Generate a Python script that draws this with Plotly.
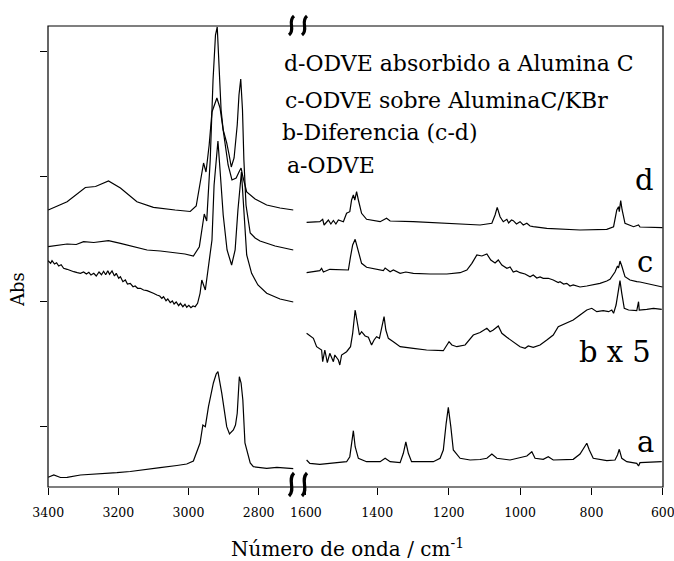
import plotly.graph_objects as go

# ---------------- data (wavenumber cm-1, offset absorbance) ----------------
# left segment 3400-2700
d_hi_wn = [3400, 3346, 3294, 3265, 3228, 3194, 3147, 3100, 3038, 2995, 2978, 2967, 2957, 2950,
           2941, 2933, 2919, 2910, 2898, 2887, 2876, 2864, 2856, 2850, 2844, 2834, 2810, 2777, 2739, 2701]
d_hi_ab = [2.77, 2.853, 2.995, 3.005, 3.06, 2.99, 2.853, 2.797, 2.77, 2.755, 2.81, 3.02, 3.24, 3.15,
           3.42, 3.75, 3.89, 3.79, 3.47, 3.22, 3.07, 3.09, 3.15, 3.19, 3.09, 2.95, 2.88, 2.82, 2.79, 2.77]

c_hi_wn = [3400, 3370, 3346, 3320, 3299, 3270, 3228, 3194, 3160, 3118, 3080, 3043, 3010, 2986, 2969,
           2961, 2955, 2948, 2938, 2930, 2923, 2918, 2913, 2907, 2901, 2891, 2884, 2878, 2870, 2861,
           2856, 2851, 2846, 2842, 2836, 2830, 2824, 2810, 2796, 2753, 2701]
c_hi_ab = [2.403, 2.42, 2.43, 2.425, 2.453, 2.445, 2.463, 2.437, 2.41, 2.37, 2.36, 2.343, 2.33, 2.31, 2.403,
           2.59, 2.73, 2.66, 3.27, 4.07, 4.52, 4.6, 4.17, 3.77, 3.57, 3.44, 3.32, 3.20, 3.29, 3.62,
           3.92, 4.08, 3.77, 3.27, 2.82, 2.65, 2.54, 2.49, 2.46, 2.41, 2.37]

b_hi_wn = [3400, 3393, 3389, 3382, 3376, 3370, 3363, 3356, 3346, 3337, 3327, 3317, 3308, 3299, 3291,
           3284, 3278, 3270, 3263, 3255, 3248, 3242, 3236, 3230, 3225, 3218, 3211, 3206, 3199, 3194,
           3187, 3180, 3174, 3166, 3158, 3152, 3145, 3137, 3128, 3118, 3109, 3100, 3090, 3082, 3076,
           3071, 3064, 3059, 3052, 3046, 3041, 3035, 3028, 3023, 3016, 3010, 3005, 2999, 2993, 2987,
           2981, 2974, 2967, 2962, 2952, 2944, 2933, 2927, 2916, 2910, 2901, 2890, 2877, 2867, 2859,
           2849, 2843, 2834, 2820, 2802, 2777, 2739, 2701]
b_hi_ab = [2.263, 2.237, 2.263, 2.23, 2.243, 2.21, 2.223, 2.187, 2.177, 2.163, 2.153, 2.143, 2.137, 2.15, 2.13,
           2.147, 2.12, 2.137, 2.11, 2.15, 2.123, 2.157, 2.123, 2.163, 2.127, 2.16, 2.11, 2.137, 2.087, 2.103,
           2.053, 2.07, 2.03, 2.037, 2.003, 2.01, 1.987, 1.987, 1.97, 1.963, 1.953, 1.937, 1.92, 1.91, 1.887,
           1.903, 1.863, 1.88, 1.843, 1.86, 1.83, 1.85, 1.813, 1.837, 1.803, 1.827, 1.797, 1.817, 1.793, 1.81,
           1.803, 1.837, 1.937, 2.07, 1.97, 2.17, 2.47, 3.02, 3.46, 3.17, 2.72, 2.37, 2.22, 2.37, 2.77,
           3.15, 2.77, 2.32, 2.137, 2.02, 1.937, 1.88, 1.85]

a_hi_wn = [3400, 3384, 3365, 3346, 3308, 3280, 3251, 3204, 3166, 3137, 3081, 3033, 3005, 2986, 2967,
           2959, 2952, 2943, 2929, 2921, 2916, 2905, 2891, 2883, 2872, 2866, 2861, 2855, 2850, 2845,
           2839, 2824, 2815, 2777, 2748, 2701]
a_hi_ab = [0.097, 0.12, 0.095, 0.097, 0.12, 0.125, 0.137, 0.143, 0.155, 0.17, 0.193, 0.215, 0.23, 0.26, 0.44,
           0.62, 0.603, 0.803, 1.04, 1.13, 1.153, 0.937, 0.603, 0.53, 0.57, 0.62, 0.737, 1.103, 1.04, 0.87,
           0.44, 0.24, 0.203, 0.187, 0.197, 0.183]

# right segment 1600-600
d_lo_wn = [1598, 1561, 1553, 1549, 1537, 1530, 1523, 1516, 1509, 1495, 1486, 1477, 1472, 1467, 1463,
           1458, 1453, 1444, 1430, 1392, 1374, 1364, 1299, 1205, 1112, 1079, 1070, 1064, 1056, 1047,
           1037, 1032, 1024, 1019, 1010, 1000, 991, 981, 972, 963, 925, 832, 757, 738, 729,
           724, 722, 718, 714, 706, 682, 668, 664, 601]
d_lo_ab = [2.647, 2.653, 2.677, 2.62, 2.67, 2.63, 2.665, 2.63, 2.67, 2.653, 2.737, 2.753, 2.87, 2.92, 2.87,
           2.953, 2.87, 2.737, 2.677, 2.653, 2.687, 2.66, 2.653, 2.637, 2.62, 2.637, 2.72, 2.797, 2.703, 2.653,
           2.677, 2.64, 2.67, 2.663, 2.63, 2.653, 2.62, 2.637, 2.61, 2.603, 2.587, 2.57, 2.577, 2.603, 2.77,
           2.803, 2.753, 2.863, 2.77, 2.637, 2.603, 2.62, 2.60, 2.593]

c_lo_wn = [1598, 1561, 1556, 1551, 1533, 1505, 1481, 1475, 1469, 1462, 1456, 1444, 1430, 1400, 1383,
           1378, 1364, 1355, 1336, 1320, 1299, 1252, 1205, 1168, 1149, 1135, 1121, 1107, 1093, 1082,
           1070, 1061, 1051, 1037, 1028, 1019, 1010, 1000, 986, 972, 963, 953, 944, 935, 921,
           907, 893, 888, 878, 869, 860, 851, 832, 813, 795, 776, 757, 748, 734, 727,
           724, 720, 715, 712, 706, 692, 682, 673, 664, 645, 626, 601]
c_lo_ab = [2.143, 2.163, 2.187, 2.15, 2.177, 2.17, 2.17, 2.303, 2.42, 2.477, 2.403, 2.237, 2.197, 2.18, 2.163,
           2.19, 2.153, 2.17, 2.137, 2.15, 2.137, 2.13, 2.13, 2.143, 2.17, 2.237, 2.32, 2.31, 2.33, 2.27,
           2.24, 2.27, 2.22, 2.187, 2.20, 2.15, 2.16, 2.143, 2.13, 2.103, 2.12, 2.09, 2.10, 2.087, 2.087,
           2.07, 2.045, 2.053, 2.03, 2.037, 2.01, 2.02, 2.00, 2.01, 2.02, 2.037, 2.06, 2.077, 2.15, 2.21,
           2.19, 2.26, 2.21, 2.17, 2.103, 2.07, 2.06, 2.053, 2.05, 2.037, 2.02, 2.00]

b_lo_wn = [1598, 1579, 1570, 1556, 1553, 1547, 1540, 1533, 1523, 1519, 1509, 1505, 1500, 1486, 1475,
           1469, 1462, 1456, 1450, 1444, 1434, 1425, 1416, 1409, 1402, 1394, 1388, 1381, 1376, 1369,
           1355, 1336, 1299, 1262, 1215, 1205, 1199, 1191, 1177, 1154, 1140, 1131, 1112, 1093, 1084,
           1075, 1061, 1051, 1037, 1019, 1000, 986, 977, 963, 944, 925, 907, 893, 869, 851,
           832, 813, 799, 785, 767, 752, 743, 738, 731, 724, 720, 715, 708, 696, 673,
           668, 666, 645, 626, 603]
b_lo_ab = [1.537, 1.487, 1.403, 1.37, 1.253, 1.37, 1.243, 1.337, 1.253, 1.32, 1.27, 1.22, 1.32, 1.353, 1.403,
           1.537, 1.77, 1.637, 1.52, 1.553, 1.51, 1.497, 1.42, 1.47, 1.503, 1.487, 1.587, 1.703, 1.57, 1.487,
           1.453, 1.403, 1.387, 1.37, 1.363, 1.42, 1.453, 1.42, 1.403, 1.42, 1.487, 1.52, 1.545, 1.587, 1.553,
           1.57, 1.61, 1.537, 1.497, 1.453, 1.403, 1.387, 1.41, 1.397, 1.42, 1.47, 1.52, 1.603, 1.637, 1.67,
           1.72, 1.77, 1.787, 1.753, 1.763, 1.753, 1.77, 1.737, 1.82, 1.97, 2.063, 1.937, 1.787, 1.77, 1.763,
           1.853, 1.77, 1.777, 1.787, 1.777]

a_lo_wn = [1598, 1589, 1561, 1523, 1486, 1477, 1472, 1467, 1462, 1453, 1430, 1392, 1378, 1364, 1336,
           1327, 1320, 1313, 1304, 1243, 1224, 1215, 1207, 1201, 1194, 1187, 1168, 1140, 1112, 1093,
           1079, 1065, 1028, 1000, 981, 967, 958, 935, 921, 907, 851, 832, 821, 813, 806,
           795, 757, 734, 727, 722, 715, 701, 673, 668, 664, 603]
a_lo_ab = [0.27, 0.237, 0.227, 0.237, 0.253, 0.303, 0.437, 0.563, 0.403, 0.287, 0.253, 0.253, 0.287, 0.253, 0.243,
           0.337, 0.45, 0.337, 0.253, 0.253, 0.287, 0.37, 0.637, 0.797, 0.603, 0.37, 0.287, 0.27, 0.275, 0.287,
           0.33, 0.287, 0.27, 0.297, 0.31, 0.353, 0.287, 0.277, 0.303, 0.27, 0.277, 0.33, 0.387, 0.437, 0.37,
           0.287, 0.263, 0.27, 0.32, 0.377, 0.287, 0.253, 0.237, 0.21, 0.243, 0.253]

left_ticks = [3400, 3200, 3000, 2800]
right_ticks = [1600, 1400, 1200, 1000, 800, 600]
y_ticks = [0.61, 1.86, 3.11, 4.36]

legend_lines = ["d-ODVE absorbido a Alumina C", "c-ODVE sobre AluminaC/KBr",
                "b-Diferencia (c-d)", "a-ODVE"]
trace_labels = ["d", "c", "b x 5", "a"]

# ---------------- figure ----------------
FONT = "DejaVu Serif"
W, H = 615, 461          # plot area size in px
L, T = 48, 26            # margins

def px(x):  # pixel x -> paper
    return (x - L) / W

def py(y):  # pixel y -> paper
    return (T + H - y) / H

fig = go.Figure()
line = dict(color="black", width=1.2)
for wn, ab in [(d_hi_wn, d_hi_ab), (c_hi_wn, c_hi_ab), (b_hi_wn, b_hi_ab), (a_hi_wn, a_hi_ab)]:
    fig.add_trace(go.Scatter(x=wn, y=ab, mode="lines", line=line, xaxis="x", yaxis="y",
                             showlegend=False, hoverinfo="skip"))
for wn, ab in [(d_lo_wn, d_lo_ab), (c_lo_wn, c_lo_ab), (b_lo_wn, b_lo_ab), (a_lo_wn, a_lo_ab)]:
    fig.add_trace(go.Scatter(x=wn, y=ab, mode="lines", line=line, xaxis="x2", yaxis="y",
                             showlegend=False, hoverinfo="skip"))

tickfont = dict(family=FONT, size=12.5, color="black")
axis_common = dict(ticks="outside", ticklen=7, tickwidth=1, tickcolor="black", showgrid=False,
                   zeroline=False, showline=False, tickfont=tickfont, ticklabelstandoff=7,
                   ticklabeloverflow="allow", automargin=False)

fig.update_layout(
    width=674, height=561,
    font=dict(family=FONT, color="black"),
    margin=dict(l=L, r=674 - L - W, t=T, b=561 - T - H, autoexpand=False),
    paper_bgcolor="white", plot_bgcolor="white",
    xaxis=dict(domain=[0, px(293.7)], range=[3400.5, 2700], tickvals=left_ticks, anchor="y", **axis_common),
    xaxis2=dict(domain=[px(305.9), 1], range=[1600, 599.5], tickvals=right_ticks, anchor="y", **axis_common),
    yaxis=dict(range=[0, 4.61], tickvals=y_ticks, showticklabels=False, ticks="outside", ticklen=7,
               tickwidth=1, tickcolor="black", showgrid=False, zeroline=False, showline=False,
               automargin=False),
)

# frame
shapes = [dict(type="rect", xref="paper", yref="paper", x0=0, x1=1, y0=0, y1=1,
               line=dict(color="black", width=1.2))]

# axis break squiggles
def squiggle(x, ytop, h):
    p = [(x + 4, ytop), (x - 3, ytop + h * 0.3), (x + 6, ytop + h * 0.7), (x - 1, ytop + h)]
    return ("M {},{} C {},{} {},{} {},{}".format(
        px(p[0][0]), py(p[0][1]), px(p[1][0]), py(p[1][1]),
        px(p[2][0]), py(p[2][1]), px(p[3][0]), py(p[3][1])))

for xs in (290, 303):
    for ytop, h in ((16, 19), (473, 23)):
        shapes.append(dict(type="path", xref="paper", yref="paper", path=squiggle(xs, ytop, h),
                           line=dict(color="black", width=3.2)))
fig.update_layout(shapes=shapes)

ann = []
leg_pos = [(281.7, 63), (283.3, 100), (280, 132), (285, 165)]
for txt, (x, y) in zip(legend_lines, leg_pos):
    ann.append(dict(text=txt, x=px(x), y=py(y), xref="paper", yref="paper", xanchor="left",
                    yanchor="middle", showarrow=False, font=dict(family=FONT, size=22, color="black")))
lab_pos = [(656, 180), (655, 262), (653, 352), (656, 442)]
for txt, (x, y) in zip(trace_labels, lab_pos):
    ann.append(dict(text=txt, x=px(x), y=py(y), xref="paper", yref="paper", xanchor="right",
                    yanchor="middle", showarrow=False, font=dict(family=FONT, size=29, color="black")))
ann.append(dict(text="Abs", x=px(17), y=py(290), xref="paper", yref="paper", textangle=-90,
                xanchor="center", yanchor="middle", showarrow=False,
                font=dict(family=FONT, size=18, color="black")))
ann.append(dict(text="Número de onda / cm<sup>-1</sup>", x=px(347), y=py(548), xref="paper", yref="paper",
                xanchor="center", yanchor="middle", showarrow=False,
                font=dict(family=FONT, size=20, color="black")))
fig.update_layout(annotations=ann)

fig.write_html("out.html")
